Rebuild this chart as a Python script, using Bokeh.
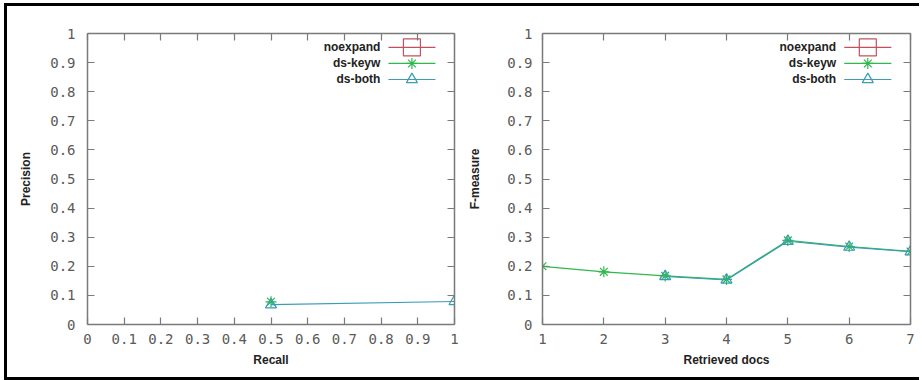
from bokeh.plotting import figure
from bokeh.models import Range1d, LinearAxis, FixedTicker
from bokeh.layouts import row
from bokeh.embed import file_html
from bokeh.resources import INLINE
from bokeh.core.properties import value

# ---------------- data ----------------
series_names = ["noexpand", "ds-keyw", "ds-both"]
series_colors = ["#c4505c", "#2fb84c", "#3a9cb6"]
series_markers = ["square", "asterisk", "triangle"]
series_sizes = [17, 11, 11]

# left panel: Precision vs Recall
pr_noexpand_x = []
pr_noexpand_y = []
pr_keyw_x = [0.5]
pr_keyw_y = [0.078]
pr_both_x = [0.5, 1.0]
pr_both_y = [0.068, 0.079]

# right panel: F-measure vs Retrieved docs
fm_noexpand_x = []
fm_noexpand_y = []
fm_keyw_x = [1, 2, 3, 4, 5, 6, 7]
fm_keyw_y = [0.200, 0.181, 0.167, 0.155, 0.289, 0.268, 0.251]
fm_both_x = [3, 4, 5, 6, 7]
fm_both_y = [0.165, 0.153, 0.286, 0.266, 0.250]

left_xticks = [0, 0.1, 0.2, 0.3, 0.4, 0.5, 0.6, 0.7, 0.8, 0.9, 1]
left_xlabels = ["0", "0.1", "0.2", "0.3", "0.4", "0.5", "0.6", "0.7", "0.8", "0.9", "1"]
yticks = [0, 0.1, 0.2, 0.3, 0.4, 0.5, 0.6, 0.7, 0.8, 0.9, 1]
ylabels = ["0", "0.1", "0.2", "0.3", "0.4", "0.5", "0.6", "0.7", "0.8", "0.9", "1"]
right_xticks = [1, 2, 3, 4, 5, 6, 7]
right_xlabels = ["1", "2", "3", "4", "5", "6", "7"]

AX_COLOR = "#7a7a7a"
TICK_FONT = "DejaVu Sans Mono"
LABEL_FONT = "Liberation Sans"


def style_axis(ax, ticks, labels, show_labels=True, standoff=10):
    ax.ticker = FixedTicker(ticks=ticks)
    ax.major_label_overrides = {t: l for t, l in zip(ticks, labels)}
    ax.minor_tick_line_color = None
    ax.major_tick_in = 7
    ax.major_tick_out = 0
    ax.major_tick_line_color = AX_COLOR
    ax.major_tick_line_width = 1.2
    ax.axis_line_color = AX_COLOR
    ax.axis_line_width = 1.5
    if show_labels:
        ax.major_label_text_font = TICK_FONT
        ax.major_label_text_font_size = "14px"
        ax.major_label_text_color = "#5a5a5a"
        ax.major_label_standoff = standoff
    else:
        ax.major_label_text_font_size = "0px"
        ax.major_label_standoff = 0
        ax.major_label_overrides = {t: "" for t in ticks}


def make_panel(xr, xticks, xlabels, xlabel, ylabel, data, width, bl, br, ylab_standoff, ytick_standoff):
    p = figure(width=width, height=371, x_range=Range1d(*xr), y_range=Range1d(0, 1),
               output_backend="svg", toolbar_location=None,
               min_border_left=bl, min_border_right=br, min_border_top=27, min_border_bottom=53)
    p.grid.visible = False
    p.outline_line_color = None
    p.background_fill_color = "white"
    p.border_fill_color = "white"

    style_axis(p.xaxis[0], xticks, xlabels, True, 9)
    style_axis(p.yaxis[0], yticks, ylabels, True, ytick_standoff)
    p.xaxis[0].axis_label = xlabel
    p.yaxis[0].axis_label = ylabel
    for ax, st in ((p.xaxis[0], 6), (p.yaxis[0], ylab_standoff)):
        ax.axis_label_text_font = LABEL_FONT
        ax.axis_label_text_font_style = "bold"
        ax.axis_label_text_font_size = "12px"
        ax.axis_label_text_color = "#222222"
        ax.axis_label_standoff = st

    top = LinearAxis()
    style_axis(top, xticks, xlabels, False)
    p.add_layout(top, "above")
    right = LinearAxis()
    style_axis(right, yticks, ylabels, False)
    p.add_layout(right, "right")

    # data series
    for (xs, ys), color, marker, size in zip(data, series_colors, series_markers, series_sizes):
        if len(xs) > 1:
            p.line(xs, ys, line_color=color, line_width=1.2)
        if len(xs) > 0:
            p.scatter(xs, ys, marker=marker, size=size, fill_color=None,
                      line_color=color, line_width=1.2)

    # gnuplot-style key: text then sample on the right
    x0, x1 = xr
    span = x1 - x0
    for i, (name, color, marker, size) in enumerate(zip(series_names, series_colors,
                                                       series_markers, series_sizes)):
        yk = 0.952 - i * 0.055
        p.text(x=[x0 + 0.798 * span], y=[yk], text=[name], text_align="right",
               text_baseline="middle", text_font=value(LABEL_FONT), text_font_style="bold",
               text_font_size="12px", text_color="#222222")
        p.line(x=[x0 + 0.82 * span, x0 + 0.948 * span], y=[yk, yk], line_color=color, line_width=1.2)
        p.scatter(x=[x0 + 0.884 * span], y=[yk], marker=marker, size=size,
                  fill_color=None, line_color=color, line_width=1.2)
    return p


p1 = make_panel((0, 1), left_xticks, left_xlabels, "Recall", "Precision",
                [(pr_noexpand_x, pr_noexpand_y), (pr_keyw_x, pr_keyw_y), (pr_both_x, pr_both_y)],
                453, 80, 6, 14, 12)
p2 = make_panel((1, 7), right_xticks, right_xlabels, "Retrieved docs", "F-measure",
                [(fm_noexpand_x, fm_noexpand_y), (fm_keyw_x, fm_keyw_y), (fm_both_x, fm_both_y)],
                462, 82, 12, 22, 10)

layout = row(p1, p2, styles={"box-shadow": "-3px -3px 0 0 black, -3px 3px 0 0 black",
                             "margin-top": "6px", "margin-left": "7px"})

open("out.html", "w").write(file_html(layout, INLINE))
